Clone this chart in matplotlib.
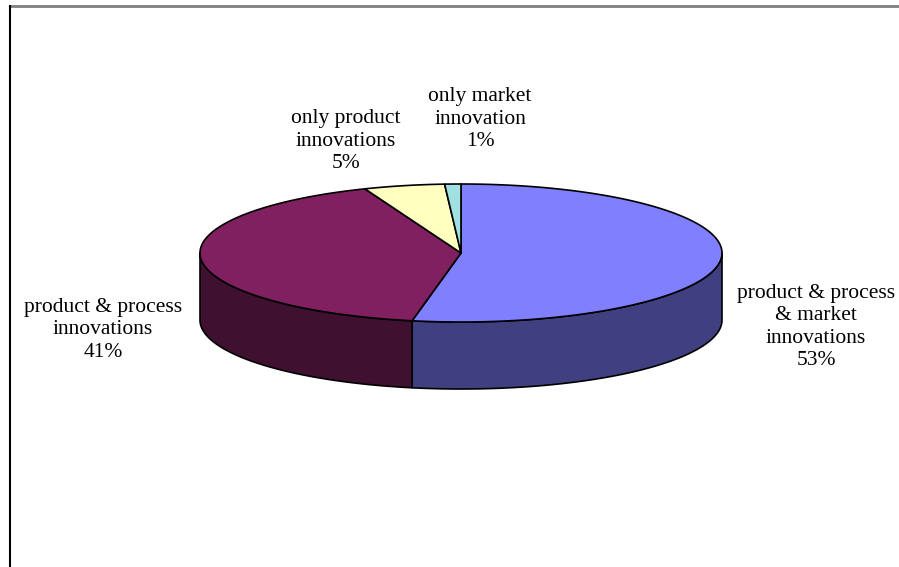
import numpy as np
import matplotlib
matplotlib.use("Agg")
import matplotlib.pyplot as plt
from matplotlib.patches import Polygon

categories = ["product & process\n& market\ninnovations",
              "product & process\ninnovations",
              "only product\ninnovations",
              "only market\ninnovation"]
values = [53, 41, 5, 1]
top_colors = ["#8080FF", "#802060", "#FFFFC0", "#A0E0E0"]
side_colors = ["#404080", "#401030", "#808060", "#507070"]

W, H = 899, 567
fig = plt.figure(figsize=(W / 100, H / 100), dpi=100)
ax = fig.add_axes([0, 0, 1, 1])
ax.set_xlim(0, W)
ax.set_ylim(H, 0)
ax.axis("off")

# frame
ax.plot([9, W], [5.5, 5.5], color="#808080", lw=2, solid_capstyle="butt")
ax.plot([9.5, 9.5], [5, H], color="black", lw=1.5, solid_capstyle="butt")

cx, cy, rx, ry, depth = 461, 253, 261, 69, 67


def pt(t, dy=0):
    r = np.radians(t)
    return cx + rx * np.sin(r), cy - ry * np.cos(r) + dy


total = sum(values)
bounds = np.concatenate([[0], np.cumsum(values) / total * 360])

# side walls (front half: 90..270 deg clockwise from top)
for i in range(len(values)):
    a0, a1 = max(bounds[i], 90), min(bounds[i + 1], 270)
    if a1 <= a0:
        continue
    ts = np.linspace(a0, a1, 200)
    upper = [pt(t) for t in ts]
    lower = [pt(t, depth) for t in ts[::-1]]
    ax.add_patch(Polygon(upper + lower, closed=True, facecolor=side_colors[i],
                         edgecolor="black", lw=1.2, joinstyle="round"))

# tops
for i in range(len(values)):
    ts = np.linspace(bounds[i], bounds[i + 1], 300)
    verts = [(cx, cy)] + [pt(t) for t in ts]
    ax.add_patch(Polygon(verts, closed=True, facecolor=top_colors[i],
                         edgecolor="black", lw=1.2, joinstyle="round"))

label_pos = [(816, 327), (103, 330), (346, 141), (480, 119)]
for lab, v, (x, y) in zip(categories, values, label_pos):
    ax.text(x, y, f"{lab}\n{v}%", ha="center", va="center",
            family="Liberation Serif", fontsize=15.5, linespacing=1.25,
            color="black")

fig.savefig("out.png", dpi=100)
